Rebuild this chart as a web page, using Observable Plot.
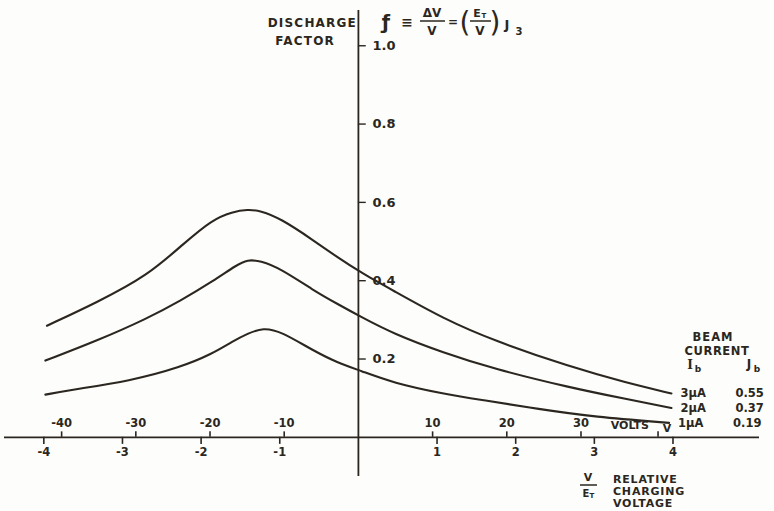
<!DOCTYPE html>
<html>
<head>
<meta charset="utf-8">
<script src="https://cdn.jsdelivr.net/npm/d3@7"></script>
<script src="https://cdn.jsdelivr.net/npm/@observablehq/plot@0.6"></script>
<style>
  html, body { margin: 0; padding: 0; background: #fdfdfb; }
  #chart svg { display: block; }
</style>
</head>
<body>
<div id="chart"></div>
<script>
// Relative charging voltage V/E_T (lower scale) and volts (upper scale)
const ratioTicks = [-4, -3, -2, -1, 1, 2, 3, 4];
const voltTicks = [-40, -30, -20, -10, 10, 20, 30];
const E_T = 10.6;          // volts per unit of V/E_T
const vMarker = 3.81;      // where the general voltage V is marked on the volts scale

// Discharge factor scale
const fTicks = [0.2, 0.4, 0.6, 0.8, 1.0];

// Beam currents and their J_b values
const beamCurrent = ["3μA", "2μA", "1μA"];
const jb = ["0.55", "0.37", "0.19"];

// Discharge factor f against V/E_T for each beam current
const u3 = [-3.96, -3.32, -2.68, -2.22, -1.86, -1.60, -1.41, -1.25, -0.99, -0.57, -0.27, 0.03, 0.44, 1.08, 1.72, 2.69, 3.40, 3.98];
const f3 = [0.285, 0.345, 0.413, 0.495, 0.556, 0.576, 0.582, 0.579, 0.559, 0.503, 0.460, 0.421, 0.375, 0.303, 0.247, 0.180, 0.140, 0.112];

const u2 = [-3.98, -3.32, -2.69, -2.26, -1.84, -1.55, -1.41, -1.25, -0.99, -0.57, -0.27, 0.03, 0.44, 1.08, 1.72, 2.69, 3.40, 3.98];
const f2 = [0.196, 0.247, 0.303, 0.349, 0.400, 0.440, 0.454, 0.451, 0.431, 0.375, 0.341, 0.308, 0.265, 0.216, 0.175, 0.127, 0.098, 0.075];

const u1 = [-3.98, -3.66, -2.90, -2.26, -1.86, -1.60, -1.41, -1.21, -0.99, -0.57, -0.27, 0.03, 0.44, 1.08, 1.55, 2.30, 3.00, 3.95];
const f1 = [0.109, 0.121, 0.144, 0.179, 0.213, 0.245, 0.265, 0.280, 0.271, 0.221, 0.191, 0.170, 0.139, 0.111, 0.096, 0.072, 0.052, 0.037];

const curves = [[u3, f3], [u2, f2], [u1, f1]].map(([u, f], i) => ({
  current: beamCurrent[i],
  jb: jb[i],
  points: u.map((x, k) => ({x, f: f[k], current: beamCurrent[i]}))
}));
const points = curves.flatMap(c => c.points);
const ends = curves.map(c => ({...c.points[c.points.length - 1], jb: c.jb}));

const ink = "#2b2720";
const font = "'DejaVu Sans', sans-serif";
const minus = d => (d < 0 ? "-" + Math.abs(d) : String(d));

const plot = Plot.plot({
  width: 774,
  height: 511,
  marginLeft: 4,
  marginRight: 15,
  marginTop: 10,
  marginBottom: 35,
  x: {domain: [-4.5, 5.1], axis: null},
  y: {domain: [-0.1, 1.09], axis: null},
  style: {background: "#fdfdfb", color: ink, fontFamily: font, fontSize: "11px", fontWeight: "bold"},
  marks: [
    // axes through the origin
    Plot.ruleY([0], {stroke: ink, strokeWidth: 1.8}),
    Plot.ruleX([0], {stroke: ink, strokeWidth: 1.8}),

    // V/E_T ticks below the axis
    Plot.ruleX(ratioTicks, {x: d => d, y1: 0, y2: -0.018, stroke: ink, strokeWidth: 1.6}),
    Plot.text(ratioTicks, {x: d => d, y: 0, dy: 15, text: minus, fill: ink, fontSize: 11.5}),

    // volts ticks above the axis
    Plot.ruleX(voltTicks, {x: d => d / E_T, y1: 0, y2: 0.014, stroke: ink, strokeWidth: 1.6}),
    Plot.text(voltTicks, {x: d => d / E_T, y: 0, dy: -14, text: minus, fill: ink, fontSize: 11.5}),
    Plot.ruleX([vMarker], {x: d => d, y1: 0, y2: 0.014, stroke: ink, strokeWidth: 1.6}),
    Plot.text([vMarker], {x: d => d, y: 0, dx: 9, dy: -9, text: () => "V", fill: ink}),
    Plot.text([vMarker], {x: d => d, y: 0, dx: -9, dy: -12, text: () => "VOLTS", textAnchor: "end", fill: ink}),

    // discharge factor ticks
    Plot.ruleY(fTicks, {x1: 0, x2: 0.1, y: d => d, stroke: ink, strokeWidth: 1.4}),
    Plot.text(fTicks, {x: 0, y: d => d, dx: 14, text: d => d.toFixed(1), textAnchor: "start", fill: ink, fontSize: 13}),

    // the three curves
    Plot.line(points, {x: "x", y: "f", z: "current", curve: "basis", stroke: ink, strokeWidth: 2.1}),

    // beam current labels at the curve ends
    Plot.text(ends, {x: "x", y: "f", dx: 9, text: "current", textAnchor: "start", fill: ink, fontSize: 11.5}),
    Plot.text(ends, {x: "x", y: "f", dx: 64, text: "jb", textAnchor: "start", fill: ink, fontSize: 11.5})
  ]
});

document.getElementById("chart").appendChild(plot);

// Lettered annotations: axis titles, defining formula and legend heading
const g = d3.select(plot).append("g")
  .attr("fill", ink)
  .attr("font-family", font)
  .attr("font-weight", "bold");

function note(x, y, s, size = 11, anchor = "start", extra = {}) {
  const t = g.append("text")
    .attr("x", x).attr("y", y).attr("dy", "0.35em")
    .attr("font-size", size).attr("text-anchor", anchor)
    .text(s);
  for (const [k, v] of Object.entries(extra)) t.attr(k, v);
  return t;
}
function bar(x1, x2, y) {
  g.append("line").attr("x1", x1).attr("x2", x2).attr("y1", y).attr("y2", y)
    .attr("stroke", ink).attr("stroke-width", 1.5);
}

// y-axis title
note(357, 23, "DISCHARGE", 12, "end", {"letter-spacing": "1.2"});
note(335, 41, "FACTOR", 12, "end", {"letter-spacing": "1.2"});

// f ≡ ΔV/V = (E_T/V) J_3
note(386, 22, "ƒ", 19, "middle");
note(407, 22, "≡", 14, "middle");
note(432, 13, "ΔV", 12, "middle");
bar(420, 445, 21);
note(432, 31, "V", 12, "middle");
note(453, 22, "=", 12, "middle");
note(465, 22, "(", 28, "middle", {"font-weight": "normal"});
note(477, 13, "E", 11, "middle");
note(484, 16, "T", 7, "middle");
bar(470, 491, 21);
note(480, 31, "V", 12, "middle");
note(495, 22, ")", 28, "middle", {"font-weight": "normal"});
note(507, 24, "J", 13, "middle");
note(519, 31, "3", 10, "middle");

// x-axis title
note(588, 477, "V", 11, "middle");
bar(580, 597, 485);
note(586, 493, "E", 10, "middle");
note(592, 496, "T", 7, "middle");
note(613, 479, "RELATIVE", 11, "start", {"letter-spacing": "0.8"});
note(613, 491, "CHARGING", 11, "start", {"letter-spacing": "0.8"});
note(613, 503, "VOLTAGE", 11, "start", {"letter-spacing": "0.8"});

// legend heading
note(713, 337, "BEAM", 11.5, "middle", {"letter-spacing": "1"});
note(717, 351, "CURRENT", 11.5, "middle", {"letter-spacing": "0.6"});
note(690, 365, "I", 12, "middle", {"font-family": "'DejaVu Serif', serif"});
note(698, 369, "b", 9, "middle");
note(749, 364, "J", 12, "middle");
note(757, 369, "b", 9, "middle");
</script>
</body>
</html>
